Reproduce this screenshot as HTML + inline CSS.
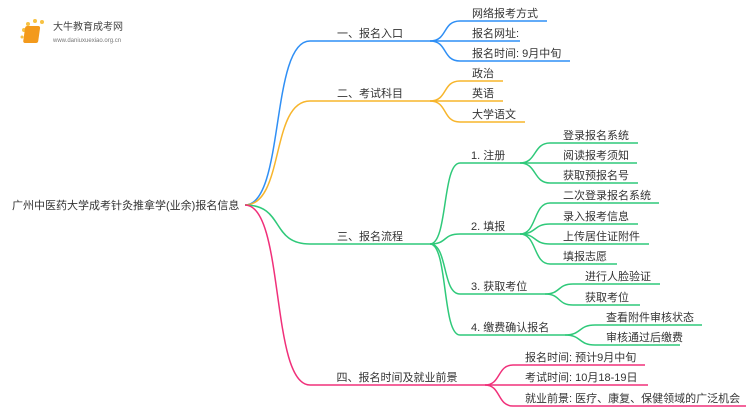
<!DOCTYPE html>
<html><head><meta charset="utf-8"><style>
html,body{margin:0;padding:0;background:#fff;width:750px;height:410px;overflow:hidden}
text{font-family:"Liberation Sans","Noto Sans CJK SC",sans-serif;font-size:11px;fill:#333}
path{fill:none;stroke-width:1.5}
</style></head><body>
<svg width="750" height="410" viewBox="0 0 750 410" xmlns="http://www.w3.org/2000/svg">
<!-- logo -->
<g>
<circle cx="24" cy="30" r="2" fill="#f7c243"/><circle cx="28" cy="24" r="2" fill="#f7c243"/><circle cx="35" cy="21" r="2" fill="#f7c243"/><circle cx="42" cy="22" r="2" fill="#f7c243"/><circle cx="22" cy="37" r="1.5" fill="#f7c243"/>
<rect x="29" y="26" width="15" height="17" rx="2" fill="#f39a1c" transform="skewX(-8)"/>
<text x="53" y="30" style="font-size:10px;fill:#444">大牛教育成考网</text>
<text x="53" y="42" style="font-size:6px;fill:#777">www.daniuxuexiao.org.cn</text>
</g>
<text x="12" y="209">广州中医药大学成考针灸推拿学(业余)报名信息</text>
<!-- blue -->
<g stroke="#2f8ff5">
<path d="M245 205 C285 205 270 41 310 41 L430 41"/>
<path d="M430 41 C448 41 442 21 460 21 L547 21"/>
<path d="M430 41 L520 41"/>
<path d="M430 41 C448 41 442 61 460 61 L570 61"/>
</g>
<!-- orange -->
<g stroke="#f7b52c">
<path d="M245 205 C285 205 270 101 310 101 L430 101"/>
<path d="M430 101 C448 101 442 81 460 81 L503 81"/>
<path d="M430 101 L503 101"/>
<path d="M430 101 C448 101 442 122 460 122 L525 122"/>
</g>
<!-- green -->
<g stroke="#2fc97a">
<path d="M245 205 C285 205 270 244 310 244 L430 244"/>
<path d="M430 244 C448 244 442 163 460 163 L520 163"/>
<path d="M430 244 C448 244 442 234 460 234 L520 234"/>
<path d="M430 244 C448 244 442 294 460 294 L545 294"/>
<path d="M430 244 C448 244 442 335 460 335 L565 335"/>
<path d="M520 163 C537 163 533 143 550 143 L638 143"/>
<path d="M520 163 L637 163"/>
<path d="M520 163 C537 163 533 183 550 183 L638 183"/>
<path d="M520 234 C537 234 533 203 550 203 L659 203"/>
<path d="M520 234 C537 234 533 224 550 224 L638 224"/>
<path d="M520 234 C537 234 533 244 550 244 L649 244"/>
<path d="M520 234 C537 234 533 264 550 264 L617 264"/>
<path d="M545 294 C561 294 557 284 573 284 L660 284"/>
<path d="M545 294 C561 294 557 305 573 305 L640 305"/>
<path d="M565 335 C582 335 578 325 595 325 L702 325"/>
<path d="M565 335 C582 335 578 345 595 345 L680 345"/>
</g>
<!-- pink -->
<g stroke="#f0307a">
<path d="M245 205 C285 205 270 385 310 385 L485 385"/>
<path d="M485 385 C501 385 497 365 513 365 L645 365"/>
<path d="M485 385 L648 385"/>
<path d="M485 385 C501 385 497 406 513 406 L746 406"/>
</g>
<!-- labels -->
<text x="370" y="37" text-anchor="middle">一、报名入口</text>
<text x="370" y="97" text-anchor="middle">二、考试科目</text>
<text x="370" y="240" text-anchor="middle">三、报名流程</text>
<text x="397" y="381" text-anchor="middle">四、报名时间及就业前景</text>
<text x="472" y="17">网络报考方式</text>
<text x="472" y="37">报名网址:</text>
<text x="472" y="57">报名时间: 9月中旬</text>
<text x="472" y="77">政治</text>
<text x="472" y="97">英语</text>
<text x="472" y="118">大学语文</text>
<text x="471" y="159">1. 注册</text>
<text x="471" y="230">2. 填报</text>
<text x="471" y="290">3. 获取考位</text>
<text x="471" y="331">4. 缴费确认报名</text>
<text x="563" y="139">登录报名系统</text>
<text x="563" y="159">阅读报考须知</text>
<text x="563" y="179">获取预报名号</text>
<text x="563" y="199">二次登录报名系统</text>
<text x="563" y="220">录入报考信息</text>
<text x="563" y="240">上传居住证附件</text>
<text x="563" y="260">填报志愿</text>
<text x="585" y="280">进行人脸验证</text>
<text x="585" y="301">获取考位</text>
<text x="606" y="321">查看附件审核状态</text>
<text x="606" y="341">审核通过后缴费</text>
<text x="525" y="361">报名时间: 预计9月中旬</text>
<text x="525" y="381">考试时间: 10月18-19日</text>
<text x="525" y="402">就业前景: 医疗、康复、保健领域的广泛机会</text>
</svg>
</body></html>
